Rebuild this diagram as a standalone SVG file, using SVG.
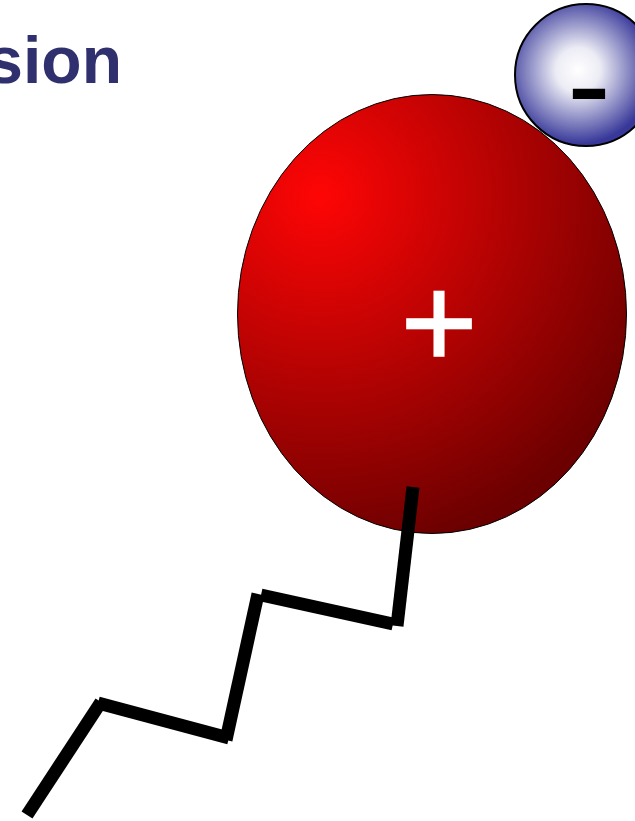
<svg xmlns="http://www.w3.org/2000/svg" width="635" height="821" viewBox="0 0 635 821">
<style>
.title{font-family:"Liberation Sans",Arial,sans-serif;font-weight:bold;font-size:66px;fill:#31306f}
.sign{font-family:"Liberation Sans",Arial,sans-serif;font-size:132px}
.chain{stroke:#000;stroke-width:13;fill:none;stroke-linecap:butt}
</style>
<defs>
<radialGradient id="redg" gradientUnits="userSpaceOnUse" cx="320" cy="195" r="360">
<stop offset="0" stop-color="#ff0505"/>
<stop offset="1" stop-color="#6c0000"/>
</radialGradient>
<radialGradient id="blueg" gradientUnits="userSpaceOnUse" cx="578" cy="70" r="74">
<stop offset="0" stop-color="#ffffff"/>
<stop offset="0.3" stop-color="#ececf5"/>
<stop offset="1" stop-color="#38389a"/>
</radialGradient>
</defs>
<rect width="635" height="821" fill="#fff"/>
<text class="title" x="122" y="83" text-anchor="end">sion</text>
<g id="positive">
<ellipse cx="432" cy="314" rx="194.5" ry="219.5" fill="url(#redg)" stroke="#000" stroke-width="1"/>
<text class="sign" x="439" y="368" text-anchor="middle" fill="#fff" stroke="#fff" stroke-width="1.5">+</text>
</g>
<g id="negative">
<circle cx="586" cy="75" r="71" fill="url(#blueg)" stroke="#000" stroke-width="2"/>
<text class="sign" x="589" y="129" text-anchor="middle" fill="#000" font-size="130">-</text>
</g>
<g id="chain">
<line class="chain" x1="27" y1="815" x2="101" y2="702"/>
<line class="chain" x1="98" y1="703" x2="229" y2="738"/>
<line class="chain" x1="226" y1="740" x2="258" y2="594"/>
<line class="chain" x1="261" y1="595" x2="393" y2="624"/>
<line class="chain" x1="397" y1="626" x2="413" y2="487"/>
</g>
</svg>
